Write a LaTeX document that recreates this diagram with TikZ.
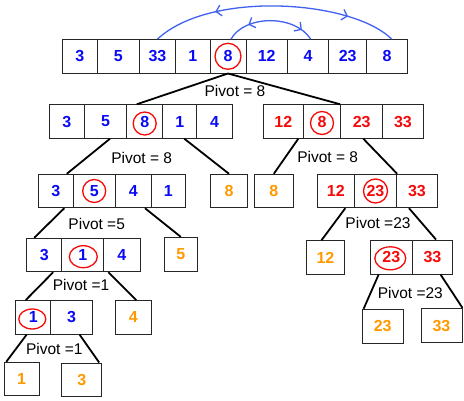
\documentclass[tikz,border=0pt]{standalone}
\usepackage{fontspec}
\setmainfont{Liberation Sans}
\usepackage{tikz}
\usetikzlibrary{arrows.meta, calc, shapes.geometric, decorations.markings}
\definecolor{numblue}{HTML}{0A0AF5}
\definecolor{numred}{HTML}{F50A0A}
\definecolor{numorange}{HTML}{FF9900}
\definecolor{arcblue}{HTML}{3F63EE}
\definecolor{boxline}{HTML}{262626}

\begin{document}
\begin{tikzpicture}[
  x=1pt, y=-1pt,
  cell/.style={draw=boxline, line width=0.9pt, minimum height=33.5, inner sep=0pt,
               font=\fontsize{16}{18}\selectfont\bfseries},
  ring/.style={draw=numred, line width=1.3pt, circle, minimum size=#1, inner sep=0pt},
  oring/.style n args={2}{draw=numred, line width=1.3pt, ellipse, minimum width=#1,
                          minimum height=#2, inner sep=0pt},
  branch/.style={draw=black, line width=1.8pt},
  pivlbl/.style={font=\fontsize{15.5}{18}\selectfont, inner sep=1pt},
  swaparc/.style n args={2}{draw=arcblue, line width=1.3pt, postaction={decorate},
    decoration={markings,
      mark=at position #1 with {\arrowreversed{Straight Barb[length=5pt,width=11pt]}},
      mark=at position #2 with {\arrow{Straight Barb[length=5pt,width=11pt]}}}},
]
\path[use as bounding box, fill=white] (0,0) rectangle (464,400);

% Starting list
\foreach \cx/\cw/\cv [count=\i] in {79.8/35/3, 118.3/42/5, 157.5/36.4/33, 192.9/34.3/1,
    228/36/8, 266.7/41.3/12, 308/41.4/4, 347.7/38/23, 387/40.6/8}
  \node[cell, text=numblue, minimum width=\cw] (a\i) at (\cx,56.3) {\cv};
\node[ring=26] (pa) at (a5) {};

% Swaps
\draw[swaparc={0.26}{0.8}] (a3.north) .. controls (210,-10) and (352,0) .. ($(a9.north)+(4.7,0)$);
\draw[swaparc={0.25}{0.86}] ($(a5.north)+(3,0)$) .. controls (245,14.5) and (295,14.5) .. ($(a7.north)+(2.7,0)$);

% Level 1
\node[pivlbl] (pv1) at (235,90.7) {Pivot = 8};
\foreach \cx/\cw/\cv [count=\i] in {66.8/35/3, 105.5/42.4/5, 144.7/36/8, 179.7/34/1, 214.5/35.6/4}
  \node[cell, text=numblue, minimum width=\cw] (b\i) at (\cx,121.5) {\cv};
\node[ring=23] (pb) at ($(b3)+(0,2)$) {};
\foreach \cx/\cw/\cv [count=\i] in {283.3/40/12, 322/37.4/8, 361.7/42/23, 403/40.6/33}
  \node[cell, text=numred, minimum width=\cw] (c\i) at (\cx,121.5) {\cv};
\node[ring=23] (pc) at ($(c2)+(0,1.5)$) {};

% Level 2
\node[pivlbl] (pv2) at (141.7,157.7) {Pivot = 8};
\node[pivlbl] (pv3) at (327.7,157) {Pivot = 8};
\foreach \cx/\cw/\cv [count=\i] in {55.8/35/3, 94.2/41.7/5, 133.4/36.7/4, 168.4/33.3/1}
  \node[cell, text=numblue, minimum width=\cw] (d\i) at (\cx,191) {\cv};
\node[ring=23] (pd) at (d2) {};
\node[cell, text=numorange, minimum width=36.6] (e) at (229,191) {8};
\node[cell, text=numorange, minimum width=39] (f) at (273.8,191) {8};
\foreach \cx/\cw/\cv [count=\i] in {335.8/37/12, 375.5/42.4/23, 417/40.6/33}
  \node[cell, text=numred, minimum width=\cw] (g\i) at (\cx,191) {\cv};
\node[ring=24] (pg) at (g2) {};

% Level 3
\node[pivlbl] (pv4) at (96.7,224) {Pivot =5};
\node[pivlbl] (pv5) at (378,223.3) {Pivot =23};
\foreach \cx/\cw/\cv [count=\i] in {44.2/35/3, 82.7/42/1, 121.9/36.3/4}
  \node[cell, text=numblue, minimum width=\cw] (h\i) at (\cx,255) {\cv};
\node[oring={28}{22}] (ph) at ($(h2)+(0.6,1.7)$) {};
\node[cell, text=numorange, minimum width=33, minimum height=34] (i) at (180.8,254.3) {5};
\node[cell, text=numorange, minimum width=37.6, minimum height=34] (j) at (325.5,257.7) {12};
\foreach \cx/\cw/\cv [count=\i] in {391.3/42/23, 432.5/40.4/33}
  \node[cell, text=numred, minimum width=\cw, minimum height=34] (k\i) at (\cx,257) {\cv};
\node[oring={31}{23}] (pk) at ($(k1)+(-1,1.3)$) {};

% Level 4
\node[pivlbl] (pv6) at (81,285) {Pivot =1};
\node[pivlbl] (pv7) at (410.3,293.3) {Pivot =23};
\foreach \cx/\cw/\cv [count=\i] in {33.2/35/1, 71.5/41.6/3}
  \node[cell, text=numblue, minimum width=\cw] (l\i) at (\cx,317.3) {\cv};
\node[oring={27}{20}] (pl) at ($(l1)+(-0.9,1.7)$) {};
\node[cell, text=numorange, minimum width=36.7] (m) at (133.3,317.3) {4};
\node[cell, text=numorange, minimum width=41.3, minimum height=34] (n) at (382.7,326.3) {23};
\node[cell, text=numorange, minimum width=41, minimum height=34.4] (o) at (441.5,325.5) {33};

% Level 5
\node[pivlbl] (pv8) at (54.3,349.3) {Pivot =1};
\node[cell, text=numorange, minimum width=35] (p) at (21.5,379) {1};
\node[cell, text=numorange, minimum width=40, minimum height=33.7] (q) at (81.7,379.8) {3};

% Branches
\draw[branch] (a5.south) -- ($(b3.north)+(-8,0)$);
\draw[branch] (a5.south) -- (c3.north west);
\draw[branch] ($(b2.south)+(4.5,0)$) -- ($(d1.north)+(11,0)$);
\draw[branch] ($(b4.south)+(4.6,0)$) -- (e.north);
\draw[branch] ($(c1.south)+(15,0)$) -- (f.north);
\draw[branch] ($(c3.south)+(1.6,0)$) -- (g2.north east);
\draw[branch] ($(d1.south)+(8.5,0)$) -- ($(h1.north)+(-10,0)$);
\draw[branch] ($(d3.south)+(11.6,0)$) -- (i.north);
\draw[branch] ($(g1.south)+(9.5,0)$) -- ($(j.north)+(-4,0)$);
\draw[branch] ($(g3.south)+(-8,0)$) -- ($(k2.north)+(3.5,0)$);
\draw[branch] ($(h1.south)+(9,0)$) -- ($(l1.north)+(-7.5,0)$);
\draw[branch] ($(h3.south)+(-13.6,0)$) -- ($(m.north)+(3,0)$);
\draw[branch] ($(k1.south)+(-12.6,0)$) -- ($(n.north west)+(2,0)$);
\draw[branch] ($(k2.south)+(8,0)$) -- (o.north east);
\draw[branch] ($(l1.south)+(-6.5,0)$) -- ($(p.north west)+(2.7,0)$);
\draw[branch] ($(l2.south)+(8,0)$) -- ($(q.north east)+(-3,0)$);

\end{tikzpicture}
\end{document}
